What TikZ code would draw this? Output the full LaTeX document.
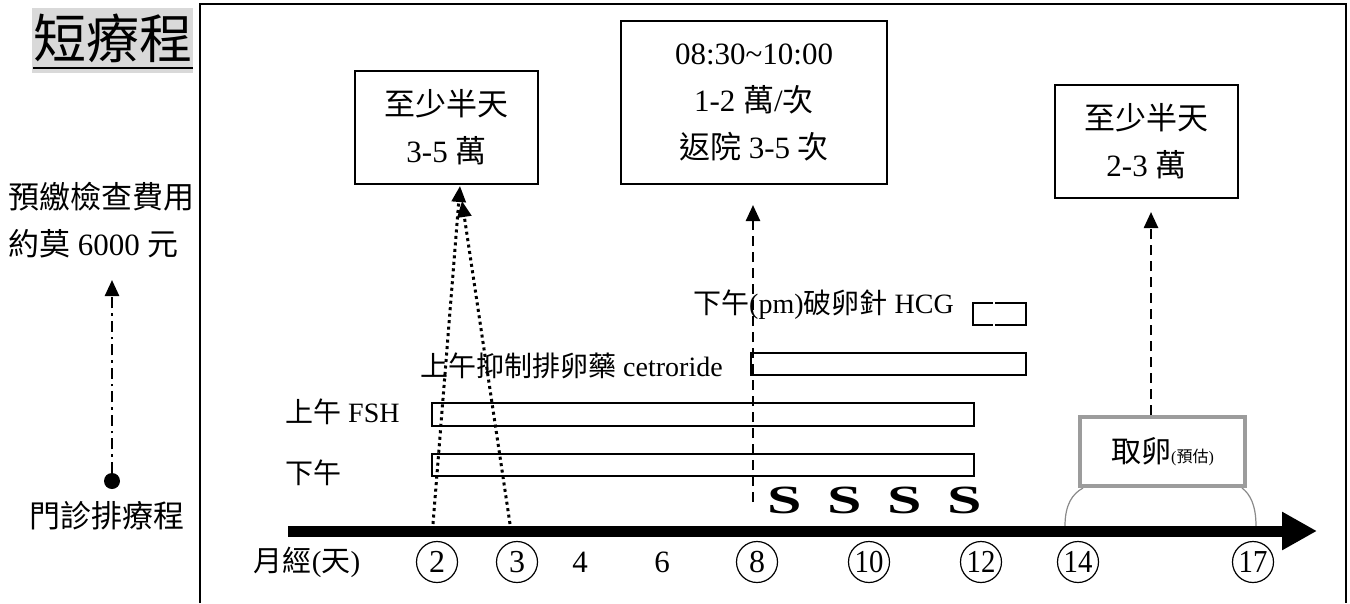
\documentclass[tikz,border=0pt]{standalone}
\usepackage{fontspec}
\setmainfont{Liberation Serif}
\newfontfamily\cjk{Noto Sans CJK TC}
\usetikzlibrary{arrows.meta}
\newcommand\zh[1]{{\cjk #1}}
\newcommand\fs[2]{\fontsize{#1}{#2}\selectfont}
\definecolor{titlegray}{HTML}{D9D9D9}
\definecolor{egggray}{HTML}{9C9C9C}
\definecolor{archgray}{HTML}{8A8A8A}

\begin{document}
\begin{tikzpicture}[x=1pt,y=-1pt, >={Triangle[width=14pt,length=16pt]},
  costbox/.style={draw,line width=1.5pt,align=center,inner sep=0pt,font=\fs{31}{47}},
  drugbar/.style={draw,line width=1.5pt},
  daynum/.style={circle,draw,line width=1.2pt,minimum size=41pt,inner sep=0pt,font=\fs{32}{32}},
  lbl/.style={anchor=west,inner sep=0pt,font=\fs{28}{32}},
  dotted arrow/.style={->,line width=3pt,dash pattern=on 3pt off 3.5pt},
  dashed arrow/.style={->,line width=2.5pt,dash pattern=on 10pt off 6pt}]
\useasboundingbox (0,0) rectangle (1350,603);

% title and frame
\fill[titlegray] (32,8) rectangle (193,73);
\node (title) at (113,38) [inner sep=0pt,font=\fs{53}{53}] {\zh{短療程}};
\draw[line width=2pt] (33,68) -- (193,68);
\draw[line width=1.5pt] (200,603) |- (1346,4) -- (1346,603);

% left side
\node (fee) at (8,220) [anchor=west,align=left,inner sep=0pt,font=\fs{31}{47}]
  {\zh{預繳檢查費用}\\\zh{約莫} 6000 \zh{元}};
\node (clinic) at (107,516) [inner sep=0pt,font=\fs{31}{31}] {\zh{門診排療程}};
\node (dot) at (112,481) [circle,fill,minimum size=16pt,inner sep=0pt] {};
\coordinate (feetip) at (112,280);
\draw[->,line width=2.5pt,dash pattern=on 11pt off 5pt on 2.5pt off 5pt] (dot) -- (feetip);

% cost boxes
\node (egg1) at (446.5,127.5) [costbox,minimum width=183pt,minimum height=113pt]
  {\zh{至少半天}\\3-5 \zh{萬}};
\node (scan) at (754,102.5) [costbox,minimum width=266pt,minimum height=163pt]
  {08:30\char`~10:00\\1-2 \zh{萬}/\zh{次}\\\zh{返院} 3-5 \zh{次}};
\node (egg2) at (1146.5,141.5) [costbox,minimum width=183pt,minimum height=113pt]
  {\zh{至少半天}\\2-3 \zh{萬}};

% drugs
\node (fshlbl) at (285,412) [lbl] {\zh{上午} FSH};
\node (pmlbl) at (285,473) [lbl] {\zh{下午}};
\node (cetlbl) at (420,366) [lbl] {\zh{上午抑制排卵藥} cetroride};
\node (hcglbl) at (693,305) [lbl] {\zh{下午}(pm)\zh{破卵針} HCG};
\draw[drugbar] (432,403) rectangle (974,426);
\draw[drugbar] (432,454) rectangle (974,476);
\draw[drugbar] (751,353) rectangle (1026,375);
\draw[drugbar] (993,303) -| (973,325) -- (993,325);
\draw[drugbar] (995,303) -| (1026,325) -- (995,325);

% ultrasound days
\foreach \x [count=\i] in {785,845,905,965}
  \node (scan\i) at (\x,500) [inner sep=0pt,font=\fs{40}{40}\bfseries] {\scalebox{1.55}[1]{S}};

% egg retrieval
\draw[archgray,line width=1.2pt] (1065,526) .. controls (1065,505) and (1072,494) .. (1083,488);
\draw[archgray,line width=1.2pt] (1256,526) .. controls (1256,505) and (1250,494) .. (1242,488);
\node (retrieve) at (1162.5,451.5) [draw=egggray,line width=4pt,fill=white,
  minimum width=165pt,minimum height=69pt,inner sep=0pt,font=\fs{30}{30}]
  {\zh{取卵}{\fs{16}{16}(\zh{預估})}};

% time axis
\coordinate (axisL) at (288,531);
\coordinate (axisR) at (1317,531);
\draw[line width=11pt,-{Triangle[width=36pt,length=35pt]}] (axisL) -- (axisR);
\node (mens) at (307,562) [inner sep=0pt,font=\fs{29}{29}] {\zh{月經}(\zh{天})};
\foreach \x/\d in {437/2,517/3,757/8}
  \node (day\d) at (\x,562) [daynum] {\d};
\foreach \x/\d in {869/10,981/12,1078/14,1253/17}
  \node (day\d) at (\x,562) [daynum] {\scalebox{0.9}[1]{\d}};
\node (day4) at (580,562) [inner sep=0pt,font=\fs{31}{31}] {4};
\node (day6) at (662,562) [inner sep=0pt,font=\fs{31}{31}] {6};

% connectors
\coordinate (d2) at (433,524);
\coordinate (d3) at (510,524);
\coordinate (tipA) at (460,186);
\coordinate (tipB) at (462,201);
\draw[dotted arrow] (d2) -- (tipA);
\draw[dotted arrow] (d3) -- (tipB);
\coordinate (d8) at (753,502);
\coordinate (scantip) at (753,205);
\draw[dashed arrow] (d8) -- (scantip);
\coordinate (eggtip) at (1151,212);
\draw[dashed arrow] (retrieve.north -| eggtip) -- (eggtip);
\end{tikzpicture}
\end{document}
